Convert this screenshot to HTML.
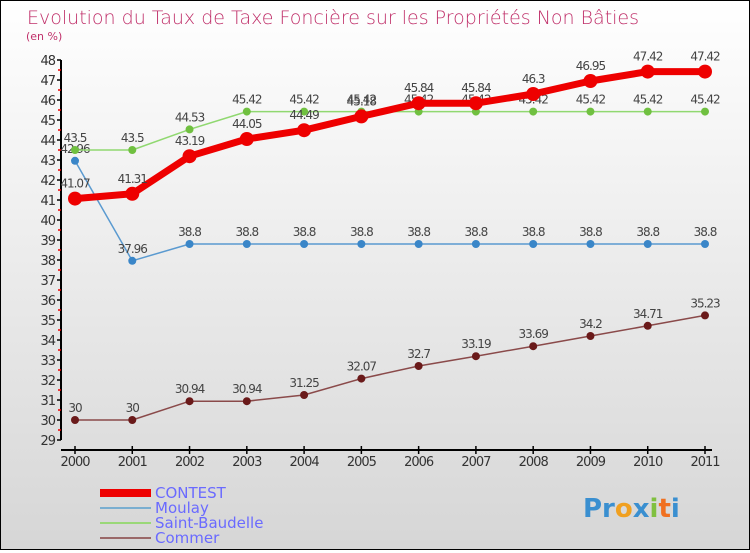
<!DOCTYPE html>
<html><head><meta charset="utf-8"><style>
html,body{margin:0;padding:0}
body{width:750px;height:550px;overflow:hidden;font-family:"DejaVu Sans","Liberation Sans",sans-serif}
#wrap{position:relative;width:748px;height:548px;border:1px solid #000;background:linear-gradient(#ffffff,#d6d6d6)}
</style></head><body>
<div id="wrap">
<svg id="chart" width="748" height="548" viewBox="1 1 748 548">
<text x="27" y="24" font-size="19" fill="#c0306a" font-family="'DejaVu Sans',sans-serif" style="font-weight:200">Evolution du Taux de Taxe Foncière sur les Propriétés Non Bâties</text>
<text x="26" y="40" font-size="11" fill="#c0306a">(en %)</text>
<g id="axes"></g><g id="series"></g>
<g>
<rect x="100" y="489" width="51" height="8" fill="#e00"/>
<text x="155" y="498" font-size="15" fill="#6a6aff">CONTEST</text>
<rect x="100" y="507" width="51" height="2" fill="#7aaed0"/>
<text x="155" y="513" font-size="15" fill="#6a6aff">Moulay</text>
<rect x="100" y="522" width="51" height="2" fill="#9ad878"/>
<text x="155" y="528" font-size="15" fill="#6a6aff">Saint-Baudelle</text>
<rect x="100" y="537" width="51" height="2" fill="#9a6868"/>
<text x="155" y="543" font-size="15" fill="#6a6aff">Commer</text>
</g>
<text x="583" y="517" font-size="26" font-weight="bold"><tspan fill="#3a8fd0">Pr</tspan><tspan fill="#f0a020">o</tspan><tspan fill="#3a8fd0">x</tspan><tspan fill="#80c040">i</tspan><tspan fill="#f07020">t</tspan><tspan fill="#3a8fd0">i</tspan></text>
</svg>
</div>
<script>
const years=[2000,2001,2002,2003,2004,2005,2006,2007,2008,2009,2010,2011];
const yTicks=[29,30,31,32,33,34,35,36,37,38,39,40,41,42,43,44,45,46,47,48];
const contest=[41.07,41.31,43.19,44.05,44.49,45.18,45.84,45.84,46.3,46.95,47.42,47.42];
const moulay=[42.96,37.96,38.8,38.8,38.8,38.8,38.8,38.8,38.8,38.8,38.8,38.8];
const saintBaudelle=[43.5,43.5,44.53,45.42,45.42,45.42,45.42,45.42,45.42,45.42,45.42,45.42];
const commer=[30,30,30.94,30.94,31.25,32.07,32.7,33.19,33.69,34.2,34.71,35.23];
const NS="http://www.w3.org/2000/svg";
const xs=i=>75+i*(630/11);
const ys=v=>60+(48-v)*20;
function mk(tag,attrs,parent){const e=document.createElementNS(NS,tag);for(const k in attrs)e.setAttribute(k,attrs[k]);parent.appendChild(e);return e;}
const ax=document.getElementById('axes');
let l=mk('line',{x1:61,y1:60,x2:61,y2:440,stroke:'#000','stroke-width':2},ax);


l=mk('line',{x1:61,y1:450,x2:712,y2:450,stroke:'#000','stroke-width':2},ax);


yTicks.forEach(v=>{
 mk('line',{x1:57,y1:ys(v),x2:61,y2:ys(v),stroke:'#000','stroke-width':1.5},ax);
 if(v<48) mk('line',{x1:58,y1:ys(v+0.5),x2:61,y2:ys(v+0.5),stroke:'#e00','stroke-width':1.5},ax);
 const t=mk('text',{x:55,y:ys(v)+5,'font-size':13,'text-anchor':'end',fill:'#333','letter-spacing':'-1'},ax);
 
 
 t.textContent=v;
});
years.forEach((y,i)=>{
 mk('line',{x1:xs(i),y1:446,x2:xs(i),y2:454,stroke:'#000','stroke-width':1.5},ax);
 const t=mk('text',{x:xs(i),y:466,'font-size':13,'text-anchor':'middle',fill:'#333','letter-spacing':'-1'},ax);
 
 
 t.textContent=y;
});
const sg=document.getElementById('series');
function draw(name,vals,color,w,r,mcol){
 const g=mk('g',{},sg);
 
 
 const p=mk('polyline',{points:vals.map((v,i)=>xs(i)+','+ys(v)).join(' '),fill:'none',stroke:color,'stroke-width':w,'stroke-linejoin':'round'},g);
 
 
 vals.forEach((v,i)=>{
  const c=mk('circle',{cx:xs(i),cy:ys(v),r:r,fill:mcol},g);
  
  
  const t=mk('text',{x:xs(i),y:ys(v)-r-4,'font-size':12,'text-anchor':'middle',fill:'#444','letter-spacing':'-1'},g);
  
  
  t.textContent=v;
 });
}
draw('commer',commer,'#8a4a4a',1.5,4,'#6a1a1a');
draw('moulay',moulay,'#5a9ad0',1.5,4,'#3a86c8');
draw('saint-baudelle',saintBaudelle,'#90d870',1.5,4,'#70c040');
draw('contest',contest,'#ee0000',7,7,'#ee0000');
</script>
</body></html>
